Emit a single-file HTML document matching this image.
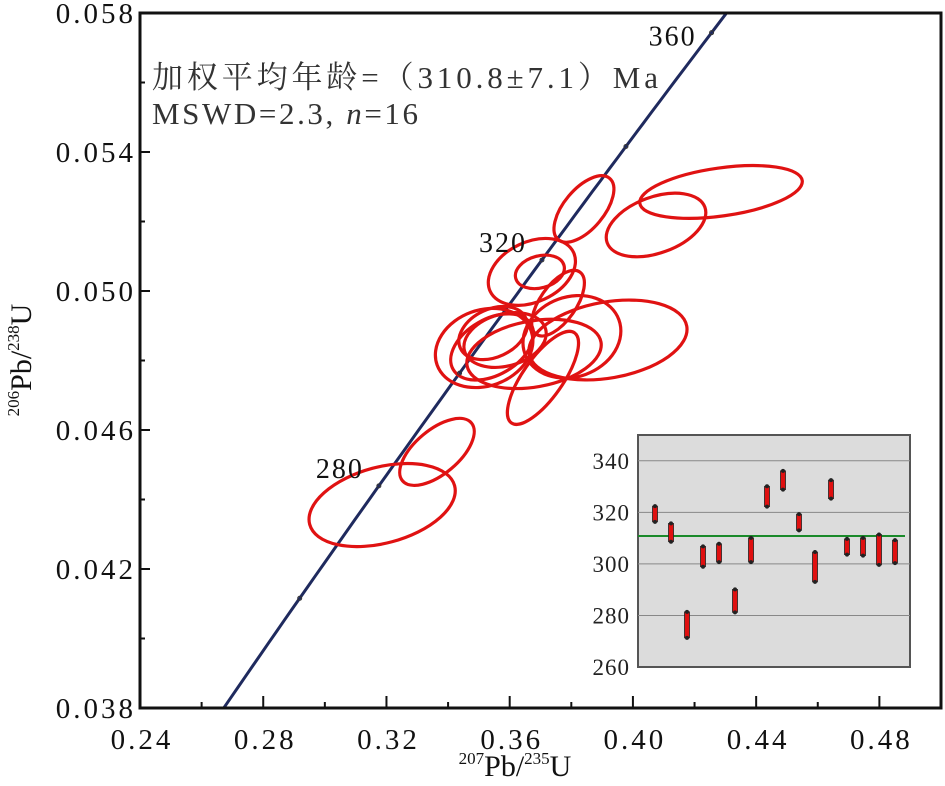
<!DOCTYPE html>
<html><head><meta charset="utf-8"><style>
html,body{margin:0;padding:0;background:#fff;overflow:hidden;}
svg{display:block;font-family:"Liberation Serif","Noto Serif CJK SC",serif;}
</style></head><body>
<svg id="c" width="945" height="786" viewBox="0 0 945 786"></svg>
<script>
// ---- data ----
const xTicks = [0.24,0.28,0.32,0.36,0.40,0.44,0.48];
const xTickLabels = ["0.24","0.28","0.32","0.36","0.40","0.44","0.48"];
const yTicks = [0.038,0.042,0.046,0.050,0.054,0.058];
const yTickLabels = ["0.038","0.042","0.046","0.050","0.054","0.058"];
const concordiaAges = [260,280,300,320,340,360];
const concordiaLabels = ["","280","","320","","360"];
// ellipses: center 207Pb/235U, center 206Pb/238U, semi-axes (px), rotation deg
const ellX = [0.3841,0.4286,0.4075,0.3672,0.3698,0.3757,0.3919,0.3802,0.3517,0.3546,0.3679,0.3708,0.3543,0.3585,0.3186,0.3364];
const ellY = [0.05236,0.05285,0.05190,0.05055,0.05055,0.04965,0.04859,0.04868,0.04836,0.04879,0.04819,0.04750,0.04839,0.04859,0.04384,0.04537];
const ellA = [40,82,52,46,25,38,80,50,50,36,68,55,45,42,75,45];
const ellB = [20,24,28,30,16,18,38,40,38,24,33,20,28,26,38,22];
const ellRot = [-50,-8,-20,-25,-15,-55,-10,-20,-20,-25,-10,-55,-30,-15,-15,-40];
// inset weighted mean
const ageHi = [322.4,315.7,281.4,306.8,307.8,290.1,310.1,330.1,336.1,319.3,304.6,332.5,309.7,310.1,311.4,309.2];
const ageLo = [316.3,308.6,271.3,298.9,300.7,281.2,300.7,322.2,328.8,313.0,293.0,325.3,303.6,303.2,299.6,300.3];
const meanAge = [310.8];
const insetTicks = [260,280,300,320,340];

// ---- axes ----
const X0=140,X1=941,Y0=13,Y1=708,XMIN=0.24,XMAX=0.50,YMIN=0.038,YMAX=0.058;
const sx=v=>X0+(v-XMIN)/(XMAX-XMIN)*(X1-X0);
const sy=v=>Y1-(v-YMIN)/(YMAX-YMIN)*(Y1-Y0);
const NS="http://www.w3.org/2000/svg";
const svg=document.getElementById('c');
function mk(tag,attrs,parent){const e=document.createElementNS(NS,tag);for(const k in attrs)e.setAttribute(k,attrs[k]);(parent||svg).appendChild(e);return e;}

// concordia curve
const l238=1.55125e-10,l235=9.8485e-10;
const cx=t=>Math.exp(l235*t*1e6)-1, cy=t=>Math.exp(l238*t*1e6)-1;
let d="";
for(let t=200;t<=400;t+=2){d+=(d?"L":"M")+sx(cx(t)).toFixed(1)+","+sy(cy(t)).toFixed(1);}
const clip=mk('clipPath',{id:'pc'});mk('rect',{x:X0,y:Y0,width:X1-X0,height:Y1-Y0},clip);
const cl=mk('path',{d:d,fill:'none',stroke:'#1f2a5e','stroke-width':3,'clip-path':'url(#pc)'});



// ellipses
for(let i=0;i<ellX.length;i++){
  const ex=sx(ellX[i]), ey=sy(ellY[i]);
  const e=mk('ellipse',{cx:ex,cy:ey,rx:ellA[i],ry:ellB[i],transform:`rotate(${ellRot[i]} ${ex} ${ey})`,fill:'none',stroke:'#e01212','stroke-width':3.2});
  
  
}
// age markers
concordiaAges.forEach((t,i)=>{
  const mx=sx(cx(t)), my=sy(cy(t));
  const c=mk('circle',{cx:mx,cy:my,r:2,fill:'none',stroke:'#333','stroke-width':1});
  
  
  if(concordiaLabels[i]){
    const ly = my < 60 ? my+13 : my-8;
    const tx=mk('text',{x:mx-15,y:ly,'font-size':28,'letter-spacing':2,'text-anchor':'end',fill:'#111'});
    tx.textContent=concordiaLabels[i];
    
    
  }
});

// frame
const fr=mk('rect',{x:X0,y:Y0,width:X1-X0,height:Y1-Y0,fill:'none',stroke:'#111','stroke-width':3});


xTicks.forEach((v,i)=>{
  mk('line',{x1:sx(v),x2:sx(v),y1:Y1,y2:Y1-12,stroke:'#111','stroke-width':2});
  mk('line',{x1:sx(v+0.02),x2:sx(v+0.02),y1:Y1,y2:Y1-6,stroke:'#111','stroke-width':2});
  const t=mk('text',{x:sx(v)+2,y:749,'font-size':29,'letter-spacing':3,'text-anchor':'middle',fill:'#111'});
  t.textContent=xTickLabels[i];
  
  
});
yTicks.forEach((v,i)=>{
  mk('line',{x1:X0,x2:X0+10,y1:sy(v),y2:sy(v),stroke:'#111','stroke-width':2});
  if(v<YMAX) mk('line',{x1:X0,x2:X0+5,y1:sy(v+0.002),y2:sy(v+0.002),stroke:'#111','stroke-width':2});
  const t=mk('text',{x:136,y:sy(v)+10,'font-size':29,'letter-spacing':3,'text-anchor':'end',fill:'#111'});
  t.textContent=yTickLabels[i];
  
  
});
</script>
<script>
(function(){
const svg=document.getElementById('c');
svg.insertAdjacentHTML('beforeend',`
<text x="515" y="776" font-size="30" text-anchor="middle" fill="#111"><tspan font-size="17" dy="-12">207</tspan><tspan dy="12">Pb/</tspan><tspan font-size="17" dy="-12">235</tspan><tspan dy="12">U</tspan></text>
<text transform="translate(31,360) rotate(-90)" font-size="30" text-anchor="middle" fill="#111"><tspan font-size="17" dy="-12">206</tspan><tspan dy="12">Pb/</tspan><tspan font-size="17" dy="-12">238</tspan><tspan dy="12">U</tspan></text>
<text x="152" y="88" font-size="31" fill="#333" textLength="506" lengthAdjust="spacing">加权平均年龄=（310.8±7.1）Ma</text>
<text x="152" y="124" font-size="31" fill="#333" textLength="266" lengthAdjust="spacing">MSWD=2.3, <tspan font-style="italic">n</tspan>=16</text>
`);
})();
</script>
<script>
(function(){
const NS="http://www.w3.org/2000/svg";
const svg=document.getElementById('c');
function mk(tag,attrs,parent){const e=document.createElementNS(NS,tag);for(const k in attrs)e.setAttribute(k,attrs[k]);(parent||svg).appendChild(e);return e;}
const BX0=638,BX1=910,BY0=435,BY1=667,AMIN=260,AMAX=350;
const ay=v=>BY1-(v-AMIN)/(AMAX-AMIN)*(BY1-BY0);
const ax=i=>655+i*16;
const g=mk('g',{});


mk('rect',{x:BX0,y:BY0,width:BX1-BX0,height:BY1-BY0,fill:'#dcdcdc',stroke:'#555','stroke-width':2},g);
insetTicks.forEach(v=>{
  if(v>AMIN) mk('line',{x1:BX0,x2:BX1,y1:ay(v),y2:ay(v),stroke:'#888','stroke-width':1},g);
  const t=mk('text',{x:630,y:ay(v)+8,'font-size':23,'letter-spacing':1,'text-anchor':'end',fill:'#222'},g);
  t.textContent=v;
  
  
});
const ml=mk('line',{x1:BX0,x2:905,y1:ay(meanAge[0]),y2:ay(meanAge[0]),stroke:'#1a8a2a','stroke-width':2},g);


ageHi.forEach((h,i)=>{
  const b=mk('rect',{x:ax(i)-2.5,y:ay(h),width:5,height:ay(ageLo[i])-ay(h),fill:'#e01010',stroke:'#222','stroke-width':0.8},g);
  
  
  mk('circle',{cx:ax(i),cy:ay(h),r:2,fill:'#222'},g);
  mk('circle',{cx:ax(i),cy:ay(ageLo[i]),r:2,fill:'#222'},g);
});
})();
</script>
</body></html>
